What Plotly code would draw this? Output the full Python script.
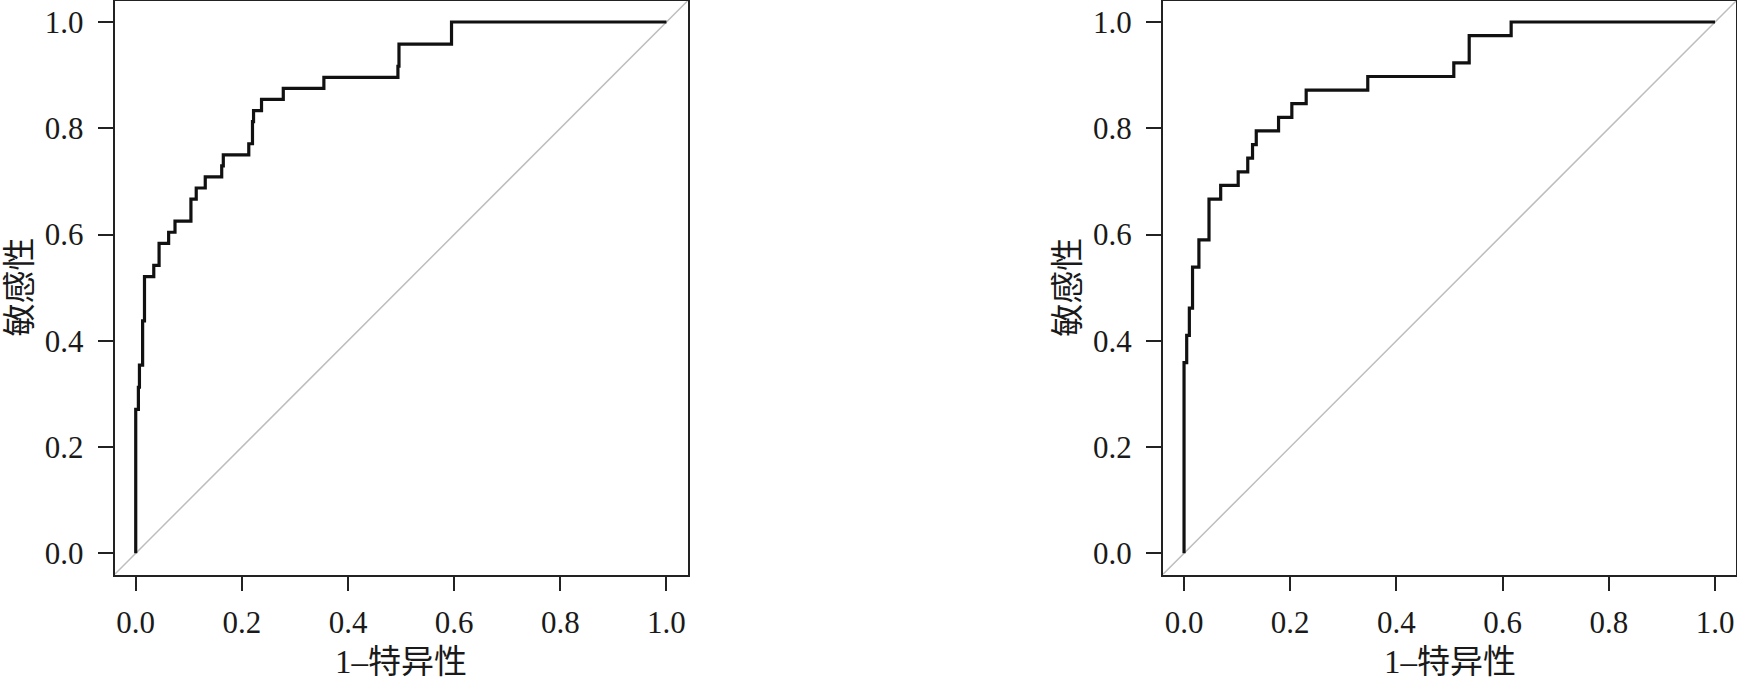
import plotly.graph_objects as go

# ROC curve A (left): corner points (1-specificity, sensitivity)
fpr_a = [0, 0, 0.005, 0.007, 0.013, 0.0165, 0.034, 0.044, 0.062, 0.074, 0.104, 0.114, 0.131,
         0.162, 0.165, 0.213, 0.220, 0.222, 0.237, 0.278, 0.3545, 0.494, 0.496, 0.595, 1.0]
tpr_a = [0, 0.2708, 0.3125, 0.3542, 0.4375, 0.5208, 0.5417, 0.5833, 0.6042, 0.6250, 0.6667,
         0.6875, 0.7083, 0.7292, 0.7500, 0.7708, 0.8125, 0.8333, 0.8542, 0.8750, 0.8958,
         0.9167, 0.9583, 1.0, 1.0]

# ROC curve B (right)
fpr_b = [0, 0, 0.005, 0.010, 0.016, 0.028, 0.047, 0.069, 0.102, 0.120, 0.129, 0.136, 0.178,
         0.203, 0.230, 0.346, 0.508, 0.537, 0.616, 1.0]
tpr_b = [0, 0.3590, 0.4103, 0.4615, 0.5385, 0.5897, 0.6667, 0.6923, 0.7179, 0.7436, 0.7692,
         0.7949, 0.8205, 0.8462, 0.8718, 0.8974, 0.9231, 0.9744, 1.0, 1.0]

tick_vals = [0.0, 0.2, 0.4, 0.6, 0.8, 1.0]
tick_text = ["0.0", "0.2", "0.4", "0.6", "0.8", "1.0"]
diag = [-0.04, 1.04]
x_title = "1–特异性"
y_title = "敏感性"

W, H = 1737, 679
FONT = "Liberation Serif, Times New Roman, Noto Sans CJK SC, serif"

fig = go.Figure()
for i, (fx, ty) in enumerate([(fpr_a, tpr_a), (fpr_b, tpr_b)]):
    xa = "x" if i == 0 else "x2"
    ya = "y" if i == 0 else "y2"
    fig.add_trace(go.Scatter(x=diag, y=diag, mode="lines", xaxis=xa, yaxis=ya,
                             line=dict(color="#bdbdbd", width=1.5), hoverinfo="skip",
                             showlegend=False))
    fig.add_trace(go.Scatter(x=fx, y=ty, mode="lines", xaxis=xa, yaxis=ya,
                             line=dict(color="#111111", width=3.2, shape="hv"),
                             showlegend=False))

dom_left = [114.5 / W, 687.7 / W]
dom_right = [1162.8 / W, 1736.3 / W]
dom_y = [(H - 574.5) / H, (H - 0.75) / H]

axis_common = dict(range=[-0.04, 1.04], tickmode="array", tickvals=tick_vals, ticktext=tick_text,
                   showgrid=False, zeroline=False, showline=True, mirror=True,
                   linecolor="#222222", linewidth=1.5, ticks="outside", ticklen=15,
                   tickwidth=1.5, tickcolor="#222222",
                   tickfont=dict(family=FONT, size=31, color="#1a1a1a"))

fig.update_layout(
    width=W, height=H,
    margin=dict(l=0, r=0, t=0, b=0),
    paper_bgcolor="white", plot_bgcolor="white",
    xaxis=dict(domain=dom_left, anchor="y", ticklabelstandoff=5, **axis_common),
    yaxis=dict(domain=dom_y, anchor="x", ticklabelstandoff=8, **axis_common),
    xaxis2=dict(domain=dom_right, anchor="y2", ticklabelstandoff=5, **axis_common),
    yaxis2=dict(domain=dom_y, anchor="x2", ticklabelstandoff=8, **axis_common),
)

annots = []
for x0px, x1px, boxl in [(135.7, 666.5, 114.5), (1184.0, 1715.0, 1162.8)]:
    annots.append(dict(text=x_title, xref="paper", yref="paper",
                       x=(x0px + x1px) / 2 / W, y=(H - 662) / H,
                       xanchor="center", yanchor="middle", showarrow=False,
                       font=dict(family=FONT, size=33, color="#1a1a1a")))
    annots.append(dict(text=y_title, xref="paper", yref="paper",
                       x=(boxl - 95.5) / W, y=(H - 287.5) / H, textangle=-90,
                       xanchor="center", yanchor="middle", showarrow=False,
                       font=dict(family=FONT, size=33, color="#1a1a1a")))
fig.update_layout(annotations=annots)

fig.write_html("out.html", config={"displayModeBar": False},
               post_script="document.body.style.margin='0';document.body.style.overflow='hidden';")
